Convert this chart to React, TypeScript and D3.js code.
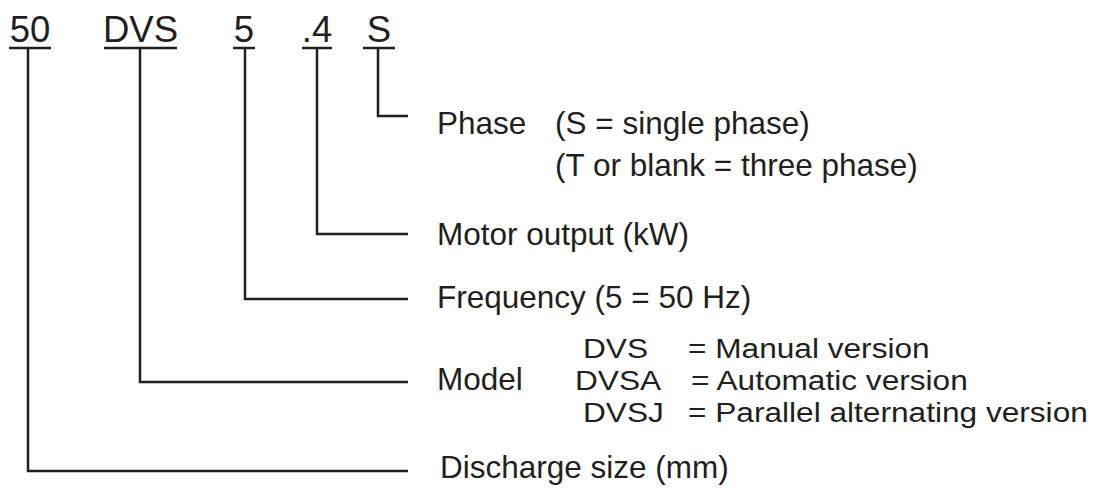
import React from "react";
import * as d3 from "d3";

// model code parts, left to right
const codes = ["50", "DVS", "5", ".4", "S"];
// what each part means (heading shown next to the leader line)
const meanings = [
  "Discharge size (mm)",
  "Model",
  "Frequency (5 = 50 Hz)",
  "Motor output (kW)",
  "Phase",
];
const phaseNotes = ["(S = single phase)", "(T or blank = three phase)"];
const modelCodes = ["DVS", "DVSA", "DVSJ"];
const modelNames = ["= Manual version", "= Automatic version", "= Parallel alternating version"];

const W = 1095;
const H = 488;
const INK = "#231f20";
const FONT = "'Liberation Sans', Arial, Helvetica, sans-serif";
const LABEL_SIZE = 31.5;
// the model list is set a bit wider than tall, as in the print
const MODEL_SIZE = 27.5;
const MODEL_STRETCH = 1.15;

// layout of the code row and the leader levels
const codeLayout = {
  underlineY: 48,
  textY: 42,
  // [underline start, underline end, leader x]
  spans: [
    [9, 51, 28],
    [104, 177, 140],
    [233, 255, 245],
    [302, 332, 317],
    [363, 395, 378],
  ],
  levels: [471, 382, 299, 234, 116],
  lineEnd: 408,
};

export default function App() {
  const lvl = d3
    .scaleOrdinal<string, number>()
    .domain(codes)
    .range(codeLayout.levels);
  const lead = d3
    .scaleOrdinal<string, number>()
    .domain(codes)
    .range(codeLayout.spans.map((s) => s[2]));

  const path = (c: string) => {
    const p = d3.path();
    p.moveTo(lead(c), codeLayout.underlineY);
    p.lineTo(lead(c), lvl(c));
    p.lineTo(codeLayout.lineEnd, lvl(c));
    return p.toString();
  };

  const labelY = [478, 390, 308, 245, 134];
  const textX = 437;
  const modelX = [583, 575, 583];
  const eqX = [688, 691, 688];
  const rowY = (i: number) => 358 + i * 32;

  return (
    <svg
      width={W}
      height={H}
      style={{ position: "absolute", left: 0, top: 0, background: "#fff" }}
      fontFamily={FONT}
      fill={INK}
    >
      {codes.map((c, i) => {
        const [x0, x1] = codeLayout.spans[i];
        return (
          <g key={c}>
            <text x={(x0 + x1) / 2} y={codeLayout.textY} fontSize={36.5} textAnchor="middle">
              {c}
            </text>
            <line
              x1={x0}
              x2={x1}
              y1={codeLayout.underlineY}
              y2={codeLayout.underlineY}
              stroke={INK}
              strokeWidth={2.5}
            />
            <path d={path(c)} fill="none" stroke={INK} strokeWidth={2.5} />
            <text x={i === 0 ? 440 : textX} y={labelY[i]} fontSize={LABEL_SIZE}>
              {meanings[i]}
            </text>
          </g>
        );
      })}
      {phaseNotes.map((t, i) => (
        <text key={t} x={555} y={134 + i * 42} fontSize={LABEL_SIZE}>
          {t}
        </text>
      ))}
      {modelCodes.map((m, i) => (
        <g key={m}>
          <text
            transform={`translate(${modelX[i]},${rowY(i)}) scale(${MODEL_STRETCH},1)`}
            fontSize={MODEL_SIZE}
          >
            {m}
          </text>
          <text
            transform={`translate(${eqX[i]},${rowY(i)}) scale(${MODEL_STRETCH},1)`}
            fontSize={MODEL_SIZE}
          >
            {modelNames[i]}
          </text>
        </g>
      ))}
    </svg>
  );
}
